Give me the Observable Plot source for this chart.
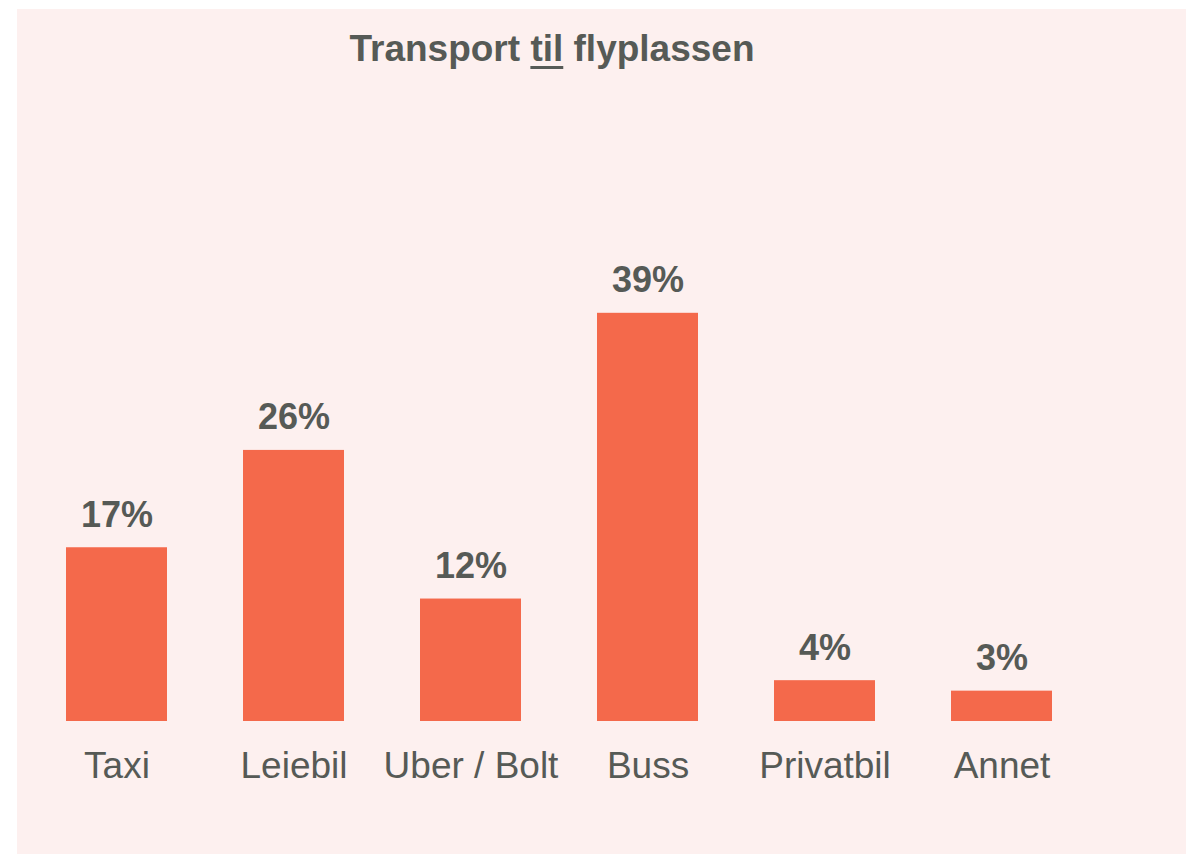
<!DOCTYPE html>
<html>
<head>
<meta charset="utf-8">
<script src="https://cdn.jsdelivr.net/npm/d3@7"></script>
<script src="https://cdn.jsdelivr.net/npm/@observablehq/plot@0.6"></script>
<style>
  html, body { margin: 0; padding: 0; background: #ffffff; }
  body { width: 1186px; height: 854px; position: relative; overflow: hidden; font-family: "Liberation Sans", Arial, sans-serif; }
  #panel { position: absolute; left: 17px; top: 9px; width: 1169px; height: 845px; background: #FDF0EF; }
  #title { position: absolute; left: 0; top: 0; width: 1070px; height: 80px; text-align: center;
           font-size: 37px; font-weight: bold; color: #565A56; line-height: 1; padding-top: 21px; box-sizing: border-box; }
  #title u { text-decoration-thickness: 3px; text-underline-offset: 5px; }
  #chart { position: absolute; left: 0; top: 80px; }
</style>
</head>
<body>
<div id="panel">
  <div id="title">Transport <u>til</u> flyplassen</div>
  <div id="chart"></div>
</div>
<script>
const categories = ["Taxi", "Leiebil", "Uber / Bolt", "Buss", "Privatbil", "Annet"];
const values = [16.6, 25.9, 11.7, 39.0, 3.9, 2.9];

const data = categories.map((c, i) => ({category: c, value: values[i]}));
const textColor = "#565A56";
const barColor = "#F4694B";

const chart = Plot.plot({
  width: 1169,
  height: 765,
  marginLeft: 10,
  marginRight: 95,
  marginTop: 4,
  marginBottom: 133,
  style: {background: "transparent", fontFamily: "'Liberation Sans', Arial, sans-serif", color: textColor, overflow: "visible"},
  x: {domain: categories, paddingInner: 0.43, paddingOuter: 0.215, label: null},
  y: {domain: [0, 60], axis: null},
  marks: [
    Plot.barY(data, {x: "category", y: "value", fill: barColor}),
    Plot.text(data, {x: "category", y: "value", text: d => Math.round(d.value) + "%",
      lineAnchor: "bottom", dy: -21, fontSize: 36, fontWeight: "bold", fill: textColor}),
    Plot.axisX({tickSize: 0, tickPadding: 30, fontSize: 37, color: textColor, label: null})
  ]
});
document.getElementById("chart").appendChild(chart);
</script>
</body>
</html>
